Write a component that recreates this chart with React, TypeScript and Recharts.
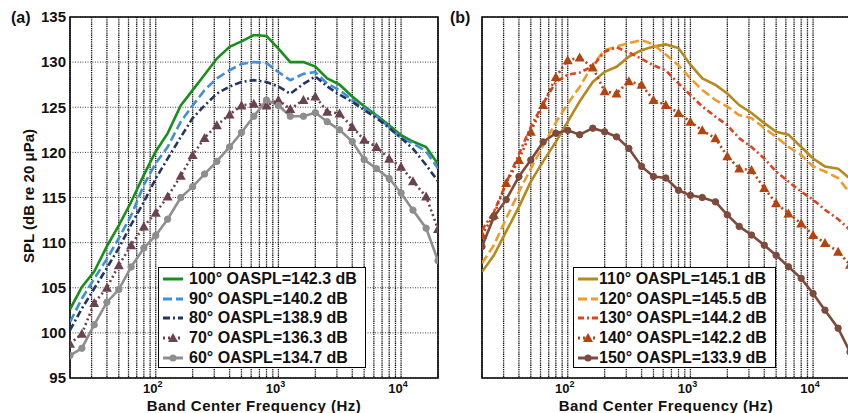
import React from "react";
import { LineChart, Line, XAxis, YAxis, CartesianGrid, ReferenceArea } from "recharts";

// 1/3-octave band centres (Hz)
const FREQS = [20, 25, 31.5, 40, 50, 63, 80, 100, 125, 160, 200, 250, 315, 400, 500, 630, 800, 1000, 1250, 1600, 2000, 2500, 3150, 4000, 5000, 6300, 8000, 10000, 12500, 16000, 20000];

// grid / tick positions on the log axis
const X_TICKS = [20, 30, 40, 50, 60, 70, 80, 90, 100, 200, 300, 400, 500, 600, 700, 800, 900, 1000, 2000, 3000, 4000, 5000, 6000, 7000, 8000, 9000, 10000, 20000];
const X_DOMAIN = [20, 20000];
const Y_TICKS_A = [95, 100, 105, 110, 115, 120, 125, 130, 135];
const Y_TICKS_B = [90, 95, 100, 105, 110, 115, 120, 125, 130, 135, 140];

// panel (a) spectra, dB
const SPL_100 = [102.6, 105.1, 106.8, 109.6, 111.9, 114.5, 117.5, 120.1, 122.1, 125.2, 126.9, 128.6, 130.4, 131.7, 132.3, 133, 132.9, 131.5, 130, 130, 129.5, 128.2, 127.5, 126.2, 125.1, 124.1, 123, 121.9, 121.2, 120.6, 118.7];
const SPL_90 = [101.2, 103.8, 106, 108.2, 110.5, 113, 116.4, 118.8, 120.6, 123.4, 125.2, 126.9, 128.2, 129.1, 129.8, 130, 129.9, 128.9, 128, 128.7, 128.9, 127.6, 126.9, 125.8, 124.9, 124, 122.8, 121.6, 121, 120.1, 118.2];
const SPL_80 = [100.3, 102.7, 104.9, 107.2, 109.4, 112, 114.5, 117.1, 119.3, 121.7, 123.8, 125.2, 126.5, 127.3, 127.8, 128, 127.8, 127.3, 126.5, 127.6, 128.4, 127.3, 126.4, 125.6, 124.7, 123.8, 122.7, 121.6, 120.4, 118.6, 116.8];
const SPL_70 = [98.8, 99.9, 103.3, 105, 107.5, 109.7, 111.8, 113.3, 115.1, 117.4, 119.7, 121.6, 123, 124.2, 125.2, 125.4, 125.2, 125.8, 124.8, 125.8, 126.2, 124.5, 124.3, 122.8, 121.4, 120.6, 119.3, 118.4, 116.8, 115.1, 111.5];
const SPL_60 = [97.5, 98.3, 100.9, 103.4, 104.8, 107.3, 109.4, 110.8, 112.6, 115, 116.2, 117.6, 119, 120.6, 122.2, 124, 125.8, 125.2, 124, 124, 124.4, 123.4, 122.5, 121.2, 119.2, 118.2, 117.1, 115.5, 113.6, 111.6, 108];

// panel (b) spectra, dB
const SPL_110 = [104.7, 107, 110.3, 113.7, 117.2, 120, 122.7, 125.5, 128.3, 131, 132.4, 133.1, 134.5, 135.4, 135.9, 136.2, 135.7, 133.4, 131.5, 130.6, 129.4, 127.8, 126.7, 125.3, 124.1, 123.7, 122, 120.4, 119.3, 119, 117.6];
const SPL_120 = [105.9, 108.4, 112.1, 115.8, 119, 122.2, 125.4, 128, 130.3, 133.4, 135.4, 135.9, 136.4, 136.8, 136.2, 134.8, 133.3, 131.5, 129.9, 128.5, 127.6, 126.4, 126, 124.6, 123.4, 122, 120.9, 119.3, 118.6, 117.7, 115.6];
const SPL_130 = [110.5, 113, 117, 121, 124.8, 128, 131, 132, 132.3, 133.2, 135.2, 135.8, 135.1, 134.2, 133.3, 132.6, 130.8, 129.2, 127.6, 126.2, 125, 123.2, 122, 120.4, 118.6, 117.2, 115.8, 114.7, 113.3, 112, 110.5];
const SPL_140 = [109.8, 112.6, 117, 120.2, 124.1, 127.8, 131.7, 134, 134.4, 133, 129.7, 129.4, 131.1, 130.6, 128.5, 127.8, 126.7, 125.5, 124.3, 123.2, 120.7, 119, 118.8, 116.3, 114.2, 112.8, 111.4, 109.8, 108.7, 107.5, 105.7];
const SPL_150 = [108.2, 112.3, 114.7, 117.9, 120.2, 122.7, 123.9, 124.3, 123.7, 124.6, 124.1, 123.4, 121.8, 119.3, 117.9, 117.7, 116, 115.3, 115, 114.4, 112.6, 111, 109.8, 108.4, 107, 105.4, 103.8, 101.7, 99.4, 96.9, 93.6];

const LABELS_A = ["100° OASPL=142.3 dB", "90° OASPL=140.2 dB", "80° OASPL=138.9 dB", "70° OASPL=136.3 dB", "60° OASPL=134.7 dB"];
const LABELS_B = ["110° OASPL=145.1 dB", "120° OASPL=145.5 dB", "130° OASPL=144.2 dB", "140° OASPL=142.2 dB", "150° OASPL=133.9 dB"];

type Marker = "none" | "circle" | "triangle";
interface SeriesStyle { key: string; color: string; dash?: string; marker: Marker; }

const STYLES_A: SeriesStyle[] = [
  { key: "s100", color: "#17901a", marker: "none" },
  { key: "s90", color: "#3f8fdb", dash: "9 4", marker: "none" },
  { key: "s80", color: "#233560", dash: "7 3 2 3", marker: "none" },
  { key: "s70", color: "#6c4250", dash: "2 3", marker: "triangle" },
  { key: "s60", color: "#8e8e8e", marker: "circle" },
];
const STYLES_B: SeriesStyle[] = [
  { key: "s110", color: "#b5891c", marker: "none" },
  { key: "s120", color: "#ef9b27", dash: "9 4", marker: "none" },
  { key: "s130", color: "#e0421e", dash: "6 3 2 3", marker: "none" },
  { key: "s140", color: "#b3440f", dash: "2 3", marker: "triangle" },
  { key: "s150", color: "#7d4a3c", marker: "circle" },
];

const dataA = FREQS.map((f, i) => ({ f, s100: SPL_100[i], s90: SPL_90[i], s80: SPL_80[i], s70: SPL_70[i], s60: SPL_60[i] }));
const dataB = FREQS.map((f, i) => ({ f, s110: SPL_110[i], s120: SPL_120[i], s130: SPL_130[i], s140: SPL_140[i], s150: SPL_150[i] }));

const FONT = "'Liberation Sans', Arial, sans-serif";

function DecadeTick(props: any) {
  const { x, y, payload } = props;
  const exp = Math.round(Math.log10(payload.value));
  if (Math.abs(Math.pow(10, exp) - payload.value) > 1e-6 || exp < 2 || exp > 4) return <g />;
  return (
    <text x={x - 3} y={y + 15} textAnchor="middle" fontSize={13} fontWeight="bold" fill="#111">
      10<tspan dy={-6} fontSize={9}>{exp}</tspan>
    </text>
  );
}

function triangleDot(color: string) {
  return (p: any) => {
    const { cx, cy, index } = p;
    if (cx == null || cy == null) return <g key={`t-${index}`} />;
    const s = 5;
    return <polygon key={`t-${index}`} points={`${cx},${cy - s} ${cx - s},${cy + s * 0.8} ${cx + s},${cy + s * 0.8}`} fill={color} />;
  };
}

function dotFor(st: SeriesStyle): any {
  if (st.marker === "circle") return { r: 3.2, fill: st.color, stroke: st.color, strokeWidth: 1 };
  if (st.marker === "triangle") return triangleDot(st.color);
  return false;
}

function Sample({ st }: { st: SeriesStyle }) {
  return (
    <svg width={20} height={12} style={{ flex: "none" }}>
      <line x1={0} y1={6} x2={20} y2={6} stroke={st.color} strokeWidth={3} strokeDasharray={st.dash} />
      {st.marker === "circle" && <circle cx={10} cy={6} r={3.5} fill={st.color} />}
      {st.marker === "triangle" && <polygon points="10,1 5,10 15,10" fill={st.color} />}
    </svg>
  );
}

function LegendBox({ left, width, styles, labels, gap }: { left: number; width: number; styles: SeriesStyle[]; labels: string[]; gap: number }) {
  return (
    <div style={{ position: "absolute", left, top: 267, width, height: 101, boxSizing: "border-box", border: "1.5px solid #000", background: "#fff", padding: "1.5px 0 0 4px", fontFamily: FONT, fontSize: 16, fontWeight: "bold", color: "#111" }}>
      {styles.map((st, i) => (
        <div key={st.key} style={{ display: "flex", alignItems: "center", height: 19.6, whiteSpace: "nowrap" }}>
          <Sample st={st} />
          <span style={{ marginLeft: gap }}>{labels[i]}</span>
        </div>
      ))}
    </div>
  );
}

function Panel({ data, styles, yTicks, showYLabels, width, yWidth, marginRight }: any) {
  const yDomain = [yTicks[0], yTicks[yTicks.length - 1]];
  return (
    <LineChart width={width} height={413} data={data} margin={{ top: 17, right: marginRight, bottom: 0, left: 0 }}>
      <CartesianGrid vertical={false} stroke="#444" strokeDasharray="1 1.5" />
      <CartesianGrid horizontal={false} stroke="#111" strokeDasharray="1.3 0.9" strokeWidth={1.3} />
      <XAxis dataKey="f" type="number" scale="log" domain={X_DOMAIN} ticks={X_TICKS} interval={0} allowDataOverflow
        axisLine={false} tickLine={false} tickSize={0} tickMargin={0} height={35} tick={<DecadeTick />}
        label={{ value: "Band Center Frequency (Hz)", position: "insideBottom", offset: 2, style: { fontSize: 15, letterSpacing: 0.5, fontWeight: "bold", fill: "#111" } }} />
      <YAxis type="number" domain={yDomain} ticks={yTicks} interval={0} allowDataOverflow width={yWidth}
        axisLine={false} tickLine={false} tickSize={0} tickMargin={4}
        tick={showYLabels ? { fontSize: 15, fontWeight: "bold", fill: "#111" } : false} />
      {styles.map((st: SeriesStyle) => (
        <Line key={st.key} dataKey={st.key} type="linear" stroke={st.color} strokeWidth={2.6} strokeDasharray={st.dash}
          dot={dotFor(st)} activeDot={false} isAnimationActive={false} />
      ))}
      <ReferenceArea x1={X_DOMAIN[0]} x2={X_DOMAIN[1]} y1={yDomain[0]} y2={yDomain[1]} fill="none" fillOpacity={0} stroke="#000" strokeWidth={1.5} />
    </LineChart>
  );
}

export default function App() {
  return (
    <div style={{ position: "absolute", left: 0, top: 0, width: 848, height: 413, overflow: "hidden", background: "#fff", fontFamily: FONT }}>
      <div style={{ position: "absolute", left: 0, top: 0 }}>
        <Panel data={dataA} styles={STYLES_A} yTicks={Y_TICKS_A} showYLabels width={450} yWidth={70} marginRight={12} />
      </div>
      <div style={{ position: "absolute", left: 440, top: 0 }}>
        <Panel data={dataB} styles={STYLES_B} yTicks={Y_TICKS_B} showYLabels={false} width={420} yWidth={42} marginRight={10} />
      </div>
      <div style={{ position: "absolute", left: 28, top: 196, transform: "translate(-50%, -50%) rotate(-90deg)", whiteSpace: "nowrap", fontSize: 15, fontWeight: "bold", color: "#111" }}>
        SPL (dB re 20 μPa)
      </div>
      <div style={{ position: "absolute", left: 11, top: 9, fontSize: 16, fontWeight: "bold", color: "#111" }}>(a)</div>
      <div style={{ position: "absolute", left: 450, top: 9, fontSize: 16, fontWeight: "bold", color: "#111" }}>(b)</div>
      <LegendBox left={158} width={208} styles={STYLES_A} labels={LABELS_A} gap={6} />
      <LegendBox left={573} width={203} styles={STYLES_B} labels={LABELS_B} gap={1} />
    </div>
  );
}
